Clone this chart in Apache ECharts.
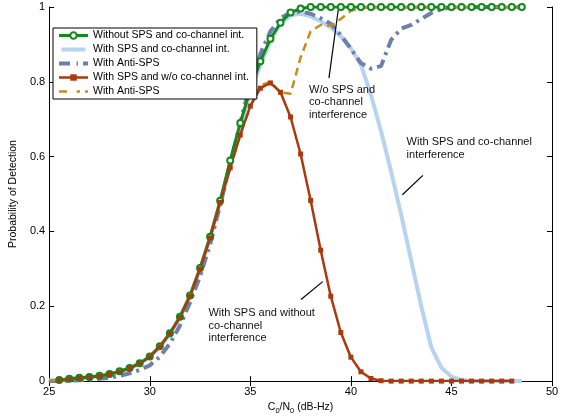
<!DOCTYPE html>
<html>
<head>
<meta charset="utf-8">
<script src="https://cdn.jsdelivr.net/npm/echarts@6/dist/echarts.min.js"></script>
<style>
  html, body { margin: 0; padding: 0; background: #fff; }
  #chart { width: 565px; height: 420px; }
</style>
</head>
<body>
<div id="chart"></div>
<script>
  // C0/N0 grid (dB-Hz)
  const cn0 = [25, 25.5, 26, 26.5, 27, 27.5, 28, 28.5, 29, 29.5, 30, 30.5, 31, 31.5, 32, 32.5,
    33, 33.5, 34, 34.5, 35, 35.5, 36, 36.5, 37, 37.5, 38, 38.5, 39, 39.5, 40, 40.5,
    41, 41.5, 42, 42.5, 43, 43.5, 44, 44.5, 45, 45.5, 46, 46.5, 47, 47.5, 48, 48.5]

  const noSpsNoInt = [null, 0.003, 0.006, 0.009, 0.011, 0.014, 0.019, 0.026, 0.035, 0.048, 0.066, 0.093,
    0.128, 0.172, 0.229, 0.302, 0.386, 0.482, 0.59, 0.69, 0.78, 0.855, 0.915, 0.958, 0.985, 0.996,
    1, 1, 1, 1, 1, 1, 1, 1, 1, 1, 1, 1, 1, 1, 1, 1, 1, 1, 1, 1, 1, 1]

  const spsWithInt = [0.002, 0.003, 0.005, 0.008, 0.01, 0.013, 0.018, 0.025, 0.034, 0.047, 0.064, 0.09,
    0.125, 0.17, 0.227, 0.3, 0.383, 0.478, 0.58, 0.68, 0.77, 0.845, 0.91, 0.955, 0.978, 0.982,
    0.975, 0.962, 0.945, 0.922, 0.89, 0.845, 0.765, 0.668, 0.56, 0.445, 0.322, 0.2, 0.09, 0.036,
    0.012, 0.003, 0, 0, 0, 0, 0, 0]

  const antiSpsWithInt = [0, 0, 0.001, 0.002, 0.004, 0.006, 0.009, 0.014, 0.021, 0.03, 0.042, 0.065,
    0.1, 0.148, 0.21, 0.28, 0.365, 0.47, 0.58, 0.69, 0.795, 0.875, 0.935, 0.97, 0.985, 0.988,
    0.982, 0.97, 0.955, 0.925, 0.888, 0.85, 0.835, 0.842, 0.912, 0.942, 0.952, 0.968, 0.984, 0.994,
    0.999, 1, 1, 1, 1, 1, 1, 1]

  const spsNoInt = [null, 0.003, 0.005, 0.008, 0.01, 0.013, 0.018, 0.025, 0.034, 0.047, 0.065, 0.092,
    0.127, 0.17, 0.227, 0.3, 0.383, 0.478, 0.57, 0.658, 0.735, 0.783, 0.797, 0.772, 0.706, 0.607,
    0.483, 0.35, 0.227, 0.13, 0.064, 0.025, 0.007, 0.001, 0, 0, 0, 0, 0, 0,
    0, 0, 0, 0, 0, 0, 0, null]

  const antiSpsNoInt = [0.002, 0.003, 0.005, 0.008, 0.01, 0.013, 0.018, 0.025, 0.034, 0.047, 0.065, 0.092,
    0.127, 0.17, 0.227, 0.3, 0.383, 0.478, 0.57, 0.658, 0.735, 0.79, 0.8, 0.772, 0.768, 0.865,
    0.935, 0.952, 0.95, 0.968, 0.99, 0.998, 1, 1, 1, 1, 1, 1, 1, 1,
    1, 1, 1, 1, 1, 1, 1, 1]

  const xTicks = [25, 30, 35, 40, 45, 50]
  const yTicks = [0, 0.2, 0.4, 0.6, 0.8, 1]

  // annotation texts, their top-left corner and pointer segments (data coords)
  const notes = [
    { text: 'W/o SPS and\nco-channel\ninterference', at: [37.92, 0.795], line: [[38.91, 0.81], [39.37, 0.992]] },
    { text: 'With SPS and co-channel\ninterference', at: [42.77, 0.655], line: [[42.56, 0.498], [43.58, 0.55]] },
    { text: 'With SPS and without\nco-channel\ninterference', at: [32.92, 0.198], line: [[37.52, 0.218], [38.6, 0.266]] }
  ]

  const pairs = (ys) => cn0.map((x, i) => [x, ys[i]])
  const font = '"Liberation Sans", Arial, sans-serif'
  const clear = 'rgba(0,0,0,0)'
  const lightBlue = '#b7d3f1'

  let chart = echarts.init(document.getElementById('chart'))
  chart.setOption({
    animation: false,
    textStyle: { fontFamily: font },
    grid: { left: 47, right: 13, top: 7, bottom: 34 },
    legend: {
      data: [
        'Without SPS and co-channel int.',
        // plain thick bar as icon (the default line icon leaves a gap in the middle)
        { name: 'With SPS and co-channel int.', icon: 'path://M0,0L0,0M0,2.5L30,2.5L30,7.5L0,7.5ZM0,10L0,10', itemStyle: { color: lightBlue } },
        'With Anti-SPS',
        'With SPS and w/o co-channel int.',
        'With Anti-SPS '
      ],
      orient: 'vertical',
      left: 53,
      top: 28,
      padding: [1, 8, 1, 4],
      itemGap: 1,
      itemWidth: 29,
      itemHeight: 8,
      backgroundColor: '#fff',
      borderColor: '#000',
      borderWidth: 1,
      borderRadius: 0,
      lineStyle: { width: 'inherit' },
      textStyle: { fontSize: 10.5, color: '#000', lineHeight: 13, fontFamily: font }
    },
    xAxis: [
      {
        type: 'value', min: 25, max: 50, interval: 5,
        name: 'C{s|0}/N{s|0} (dB-Hz)', nameLocation: 'middle', nameGap: 18,
        nameTextStyle: {
          fontSize: 10.5, color: '#000', fontFamily: font,
          rich: { s: { fontSize: 7.5, padding: [7, 0, 0, 0], fontFamily: font } }
        },
        axisLine: { lineStyle: { color: '#000', width: 1 } },
        axisTick: { inside: true, length: 5, lineStyle: { color: '#000' } },
        axisLabel: { color: '#000', fontSize: 11, margin: 5, formatter: (v) => xTicks.includes(v) ? String(v) : '' },
        splitLine: { show: false }
      },
      {
        type: 'value', min: 25, max: 50, interval: 5, position: 'top',
        axisLine: { lineStyle: { color: '#000', width: 1 } },
        axisTick: { inside: true, length: 5, lineStyle: { color: '#000' } },
        axisLabel: { show: false },
        splitLine: { show: false }
      }
    ],
    yAxis: [
      {
        type: 'value', min: 0, max: 1, interval: 0.2,
        name: 'Probability of Detection', nameLocation: 'middle', nameGap: 24,
        nameTextStyle: { fontSize: 10.5, color: '#000', fontFamily: font },
        axisLine: { show: true, lineStyle: { color: '#000', width: 1 } },
        axisTick: { show: true, inside: true, length: 5, lineStyle: { color: '#000' } },
        axisLabel: { color: '#000', fontSize: 11, margin: 4, formatter: (v) => yTicks.includes(+v.toFixed(1)) ? String(+v.toFixed(1)) : '' },
        splitLine: { show: false }
      },
      {
        type: 'value', min: 0, max: 1, interval: 0.2, position: 'right',
        axisLine: { show: true, lineStyle: { color: '#000', width: 1 } },
        axisTick: { show: true, inside: true, length: 5, lineStyle: { color: '#000' } },
        axisLabel: { show: false },
        splitLine: { show: false }
      }
    ],
    series: [
      {
        name: 'With SPS and co-channel int.', type: 'line', data: pairs(spsWithInt),
        showSymbol: false,
        lineStyle: { color: lightBlue, width: 4 }, itemStyle: { color: clear, borderColor: clear, borderWidth: 0 }
      },
      {
        name: 'With Anti-SPS', type: 'line', data: pairs(antiSpsWithInt),
        showSymbol: false,
        lineStyle: { color: '#6d80ab', width: 4, type: [11, 5, 3, 5] }, itemStyle: { color: clear, borderColor: clear, borderWidth: 0 }
      },
      {
        name: 'Without SPS and co-channel int.', type: 'line', data: pairs(noSpsNoInt),
        symbol: 'emptyCircle', symbolSize: 6,
        lineStyle: { color: '#118a1c', width: 3 },
        itemStyle: { color: '#118a1c', borderColor: '#118a1c', borderWidth: 2 }
      },
      {
        name: 'With Anti-SPS ', type: 'line', data: pairs(antiSpsNoInt),
        showSymbol: false,
        lineStyle: { color: '#c48d1c', width: 2.5, type: [8, 5] }, itemStyle: { color: clear, borderColor: clear, borderWidth: 0 }
      },
      {
        name: 'With SPS and w/o co-channel int.', type: 'line', data: pairs(spsNoInt),
        symbol: 'rect', symbolSize: 5,
        lineStyle: { color: '#a9390e', width: 2.5 },
        itemStyle: { color: '#a9390e', borderWidth: 0 },
        markLine: {
          silent: true, symbol: 'none', animation: false,
          label: { show: false },
          lineStyle: { color: '#000', width: 1.2, type: 'solid' },
          data: notes.map((n) => [{ coord: n.line[0] }, { coord: n.line[1] }])
        }
      }
    ]
  })

  chart.setOption({
    graphic: notes.map((n) => {
      let p = chart.convertToPixel({ xAxisIndex: 0, yAxisIndex: 0 }, n.at)
      return {
        type: 'text', left: p[0], top: p[1], z: 10,
        style: { text: n.text, fill: '#111', font: '11px ' + font, lineHeight: 12.5 }
      }
    })
  })

  window.addEventListener('resize', function () {
    chart.resize()
  })
</script>
</body>
</html>
